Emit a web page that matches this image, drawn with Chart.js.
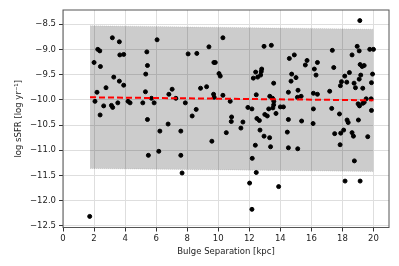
<!DOCTYPE html>
<html>
<head>
<meta charset="utf-8">
<script src="https://cdn.jsdelivr.net/npm/chart.js@4/dist/chart.umd.min.js"></script>
<style>
  body { margin: 0; background: #fff; }
  #wrap { width: 399px; height: 266px; }
</style>
</head>
<body>
<div id="wrap"><canvas id="sfr" width="399" height="266"></canvas></div>
<script>
// bulge separation [kpc] and log sSFR
var sepKpc = [1.72, 2.0, 2.06, 2.19, 2.24, 2.37, 2.39, 2.41, 2.62, 2.77,
  3.12, 3.18, 3.2, 3.27, 3.53, 3.63, 3.63, 3.66, 3.91, 3.91,
  4.19, 4.32, 5.14, 5.31, 5.33, 5.4, 5.44, 5.44, 5.5, 5.7,
  5.87, 6.06, 6.17, 6.24, 6.77, 6.82, 7.03, 7.27, 7.59, 7.59,
  7.67, 7.88, 8.06, 8.32, 8.58, 8.62, 8.86, 9.25, 9.4, 9.59,
  9.7, 9.72, 9.74, 9.81, 10.05, 10.13, 10.3, 10.3, 10.52, 10.77,
  10.84, 10.86, 11.46, 11.59, 11.91, 12.02, 12.17, 12.17, 12.19, 12.26,
  12.39, 12.41, 12.45, 12.45, 12.49, 12.54, 12.65, 12.69, 12.73, 12.77,
  12.8, 12.95, 12.95, 13.0, 13.31, 13.32, 13.37, 13.42, 13.5, 13.58,
  13.57, 13.52, 13.57, 13.16, 13.25, 13.72, 13.89, 14.0, 14.2, 14.45,
  14.52, 14.52, 14.52, 14.58, 14.69, 14.73, 14.9, 15.01, 15.1, 15.12,
  15.14, 15.34, 15.37, 15.61, 15.72, 16.11, 16.13, 16.13, 16.19, 16.3,
  16.39, 16.39, 17.18, 17.31, 17.35, 17.44, 17.5, 17.81, 17.85, 17.87,
  17.89, 17.94, 18.08, 18.15, 18.17, 18.28, 18.3, 18.37, 18.45, 18.62,
  18.62, 18.71, 18.75, 18.77, 18.84, 18.95, 19.01, 19.03, 19.08, 19.08,
  19.1, 19.12, 19.14, 19.14, 19.18, 19.27, 19.31, 19.31, 19.4, 19.4,
  19.53, 19.63, 19.76, 19.85, 19.87, 19.87, 19.94, 20.0];
var logSSFR = [-12.31, -9.26, -10.03, -9.85, -9.0, -9.03, -10.3, -9.34, -10.12, -9.76,
  -10.11, -8.77, -10.15, -9.55, -10.06, -8.85, -9.63, -9.11, -9.10, -9.71,
  -10.03, -10.06, -10.06, -9.84, -9.49, -9.05, -9.32, -10.39, -11.1, -9.97,
  -10.06, -8.81, -11.02, -10.62, -10.48, -9.89, -9.79, -9.97, -10.62, -11.1,
  -11.45, -10.06, -9.09, -10.32, -10.19, -9.08, -9.77, -9.74, -8.95, -10.82,
  -9.89, -9.26, -9.95, -9.26, -9.48, -9.53, -8.77, -9.91, -10.65, -10.03,
  -10.43, -10.34, -10.56, -10.44, -10.15, -11.65, -10.18, -12.17, -11.16, -9.57,
  -10.9, -9.45, -9.9, -11.44, -10.37, -9.55, -10.41, -10.6, -9.51, -9.44,
  -9.39, -8.94, -10.72, -10.29, -10.75, -9.93, -10.93, -8.92, -9.97, -10.03,
  -10.1, -10.16, -9.67, -10.32, -10.18, -10.27, -11.72, -10.14, -10.14, -10.64,
  -9.85, -10.39, -10.95, -9.18, -9.63, -9.49, -9.11, -9.56, -9.95, -10.97,
  -9.81, -9.93, -10.42, -9.31, -9.22, -10.47, -9.87, -10.18, -9.39, -9.51,
  -9.26, -9.89, -9.83, -10.17, -9.02, -9.36, -10.67, -10.28, -10.89, -9.72,
  -10.66, -9.64, -10.6, -9.53, -11.61, -9.65, -10.4, -10.45, -9.46, -9.11,
  -10.65, -10.72, -9.67, -11.21, -9.76, -8.94, -10.08, -10.4, -9.03, -9.59,
  -10.12, -8.43, -9.3, -11.61, -9.51, -9.34, -9.77, -10.07, -9.32, -10.05,
  -9.98, -10.73, -9.0, -9.98, -9.66, -10.21, -9.49, -9.0];

// fit line and its shaded band
var fitX = [1.74, 20.0];
var fitY = [-9.95, -10.01];
var bandUpper = [-8.53, -8.6];
var bandLower = [-11.36, -11.42];

var xTicks = [0, 2, 4, 6, 8, 10, 12, 14, 16, 18, 20];
var yTicks = [-12.5, -12.0, -11.5, -11.0, -10.5, -10.0, -9.5, -9.0, -8.5];

function pts(xs, ys) {
  return xs.map(function (x, i) { return { x: x, y: ys[i] }; });
}

var tickFont = { family: 'DejaVu Sans', size: 8.5 };

// matplotlib style box round the plot
var frame = {
  id: 'frame',
  afterDatasetsDraw: function (chart) {
    var a = chart.chartArea, c = chart.ctx;
    c.save();
    c.strokeStyle = '#555';
    c.lineWidth = 1;
    c.strokeRect(a.left, a.top, a.right - a.left, a.bottom - a.top);
    c.restore();
  }
};

new Chart(document.getElementById('sfr'), {
  type: 'scatter',
  data: {
    datasets: [{
      data: pts(fitX, fitY),
      type: 'line',
      borderColor: '#ff0000',
      borderWidth: 2,
      borderDash: [6, 3],
      pointRadius: 0,
      fill: false,
      order: 0
    }, {
      data: pts(sepKpc, logSSFR),
      backgroundColor: '#000',
      borderColor: '#000',
      pointRadius: 2,
      order: 1
    }, {
      data: pts(fitX, bandUpper),
      type: 'line',
      borderColor: 'rgba(0,0,0,0.1)',
      borderWidth: 1,
      borderDash: [1, 1],
      pointRadius: 0,
      fill: false,
      order: 3
    }, {
      data: pts(fitX, bandLower),
      type: 'line',
      borderColor: 'rgba(0,0,0,0.1)',
      borderWidth: 1,
      borderDash: [1, 1],
      backgroundColor: 'rgba(0,0,0,0.2)',
      pointRadius: 0,
      fill: 2,
      order: 2
    }]
  },
  options: {
    responsive: false,
    animation: false,
    layout: { padding: { left: 0, right: 10, top: 10, bottom: 0 } },
    plugins: {
      legend: { display: false },
      tooltip: { enabled: false }
    },
    scales: {
      x: {
        type: 'linear',
        min: 0,
        max: 21,
        afterBuildTicks: function (s) { s.ticks = xTicks.map(function (v) { return { value: v }; }); },
        afterFit: function (s) { s.height = 38.5; },
        border: { display: false },
        grid: { color: '#dedede', tickColor: '#333', tickLength: 4 },
        ticks: { font: tickFont, color: '#222', padding: 2, maxRotation: 0 },
        title: {
          display: true,
          text: 'Bulge Separation [kpc]',
          font: tickFont,
          color: '#222',
          padding: { top: 0, bottom: 9 }
        }
      },
      y: {
        type: 'linear',
        min: -12.53,
        max: -8.22,
        afterBuildTicks: function (s) { s.ticks = yTicks.map(function (v) { return { value: v }; }); },
        afterFit: function (s) { s.width = 63; },
        border: { display: false },
        grid: { color: '#dedede', tickColor: '#333', tickLength: 4 },
        ticks: {
          font: tickFont,
          color: '#222',
          padding: 3,
          callback: function (v) { return v.toFixed(1).replace('-', '\u2212'); }
        },
        title: {
          display: true,
          text: 'log sSFR [log yr\u207B\u00B9]',
          font: tickFont,
          color: '#222',
          padding: { top: 14, bottom: 0 }
        }
      }
    }
  },
  plugins: [frame]
});
</script>
</body>
</html>
